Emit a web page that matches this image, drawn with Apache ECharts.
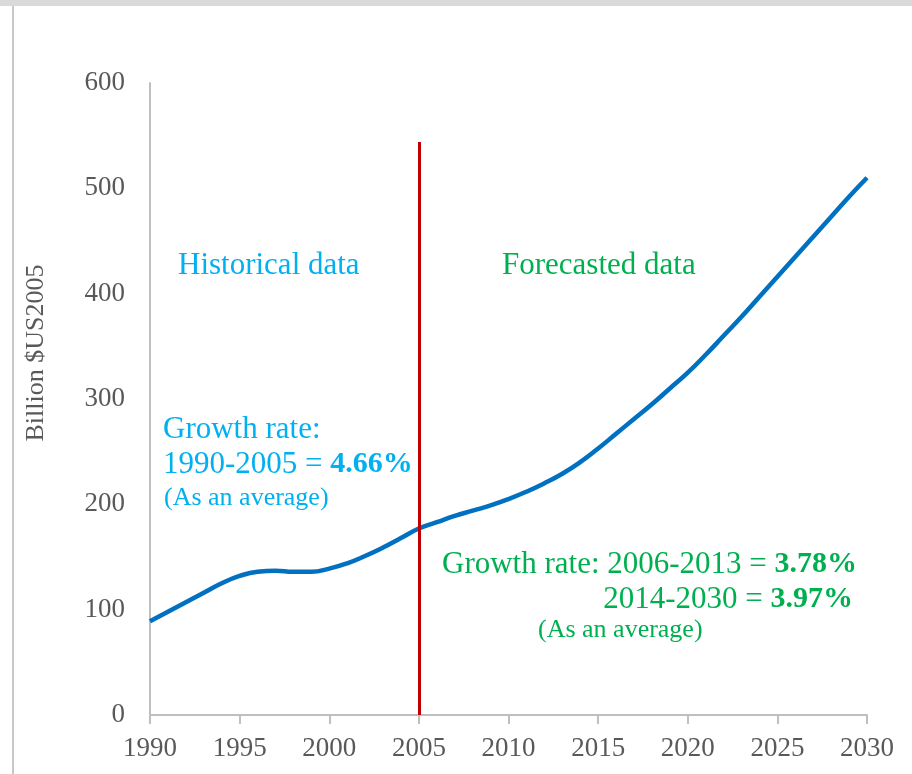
<!DOCTYPE html>
<html>
<head>
<meta charset="utf-8">
<script src="https://cdn.jsdelivr.net/npm/echarts@6/dist/echarts.min.js"></script>
<style>
  html, body { margin: 0; padding: 0; background: #fff; }
  #chart { width: 912px; height: 774px; }
</style>
</head>
<body>
<div id="chart"></div>
<script>
// 年份与数值
var years = [1990, 1991, 1992, 1993, 1994, 1995, 1996, 1997, 1998, 1999,
  2000, 2001, 2002, 2003, 2004, 2005, 2006, 2007, 2008, 2009,
  2010, 2011, 2012, 2013, 2014, 2015, 2016, 2017, 2018, 2019,
  2020, 2021, 2022, 2023, 2024, 2025, 2026, 2027, 2028, 2029, 2030];
var gdpValues = [89, 98, 107, 116, 125, 132, 136, 137, 136, 136,
  139, 144, 151, 159, 168, 177, 183, 189, 194, 199,
  205, 212, 220, 229, 240, 253, 267, 281, 295, 310,
  325, 342, 360, 378, 397, 416, 435, 454, 473, 492, 510];
var dividerYear = 2005;
var dividerTop = 544;
var yTicks = [0, 100, 200, 300, 400, 500, 600];

var serif = '"Liberation Serif", "DejaVu Serif", serif';
var blue = '#00b0f0';
var green = '#00b050';
var grey = '#595959';

var chart = echarts.init(document.getElementById('chart'));
chart.setOption({
  animation: false,
  grid: { left: 150, right: 45, top: 83, bottom: 59 },
  xAxis: {
    type: 'value',
    min: 1990,
    max: 2030,
    interval: 5,
    axisLine: { lineStyle: { color: '#bfbfbf', width: 2 } },
    axisTick: { show: true, length: 9, lineStyle: { color: '#bfbfbf', width: 2 } },
    axisLabel: {
      color: grey, fontSize: 27, fontFamily: serif, margin: 20,
      formatter: function (v) { return String(v); }
    },
    splitLine: { show: false }
  },
  yAxis: {
    type: 'value',
    min: yTicks[0],
    max: yTicks[yTicks.length - 1],
    interval: 100,
    axisLine: { show: true, lineStyle: { color: '#bfbfbf', width: 2 } },
    axisTick: { show: false },
    axisLabel: { color: grey, fontSize: 27, fontFamily: serif, margin: 25 },
    splitLine: { show: false }
  },
  series: [
    {
      type: 'line',
      smooth: 0.5,
      showSymbol: false,
      lineStyle: { color: '#0070c0', width: 4.5 },
      data: years.map(function (y, i) { return [y, gdpValues[i]]; }),
      markLine: {
        silent: true,
        symbol: 'none',
        label: { show: false },
        lineStyle: { color: '#c00000', width: 3, type: 'solid' },
        data: [[{ coord: [dividerYear, 0] }, { coord: [dividerYear, dividerTop] }]]
      }
    }
  ],
  graphic: [
    { type: 'rect', shape: { x: 0, y: 0, width: 912, height: 6 }, style: { fill: '#d9d9d9' }, silent: true },
    { type: 'rect', shape: { x: 12, y: 6, width: 2, height: 768 }, style: { fill: '#c8c8c8' }, silent: true },
    {
      type: 'text', x: 36, y: 353, rotation: Math.PI / 2,
      style: { text: 'Billion $US2005', fill: grey, font: '26px ' + serif, align: 'center', verticalAlign: 'middle' }
    },
    { type: 'text', left: 178, top: 250, style: { text: 'Historical data', fill: blue, font: '31px ' + serif } },
    { type: 'text', left: 502, top: 250, style: { text: 'Forecasted data', fill: green, font: '31px ' + serif } },
    { type: 'text', left: 163, top: 414, style: { text: 'Growth rate:', fill: blue, font: '31px ' + serif } },
    {
      type: 'text', left: 163, top: 449,
      style: {
        text: '{n|1990-2005 = }{b|4.66%}',
        rich: {
          n: { fill: blue, font: '31px ' + serif },
          b: { fill: blue, font: 'bold 30px ' + serif }
        }
      }
    },
    { type: 'text', left: 164, top: 485, style: { text: '(As an average)', fill: blue, font: '26px ' + serif } },
    {
      type: 'text', left: 442, top: 549,
      style: {
        text: '{n|Growth rate: 2006-2013 = }{b|3.78%}',
        rich: {
          n: { fill: green, font: '31px ' + serif },
          b: { fill: green, font: 'bold 30px ' + serif }
        }
      }
    },
    {
      type: 'text', right: 59, top: 584,
      style: {
        text: '{n|2014-2030 = }{b|3.97%}',
        rich: {
          n: { fill: green, font: '31px ' + serif },
          b: { fill: green, font: 'bold 30px ' + serif }
        }
      }
    },
    { type: 'text', left: 538, top: 617, style: { text: '(As an average)', fill: green, font: '26px ' + serif } }
  ]
});
</script>
</body>
</html>
